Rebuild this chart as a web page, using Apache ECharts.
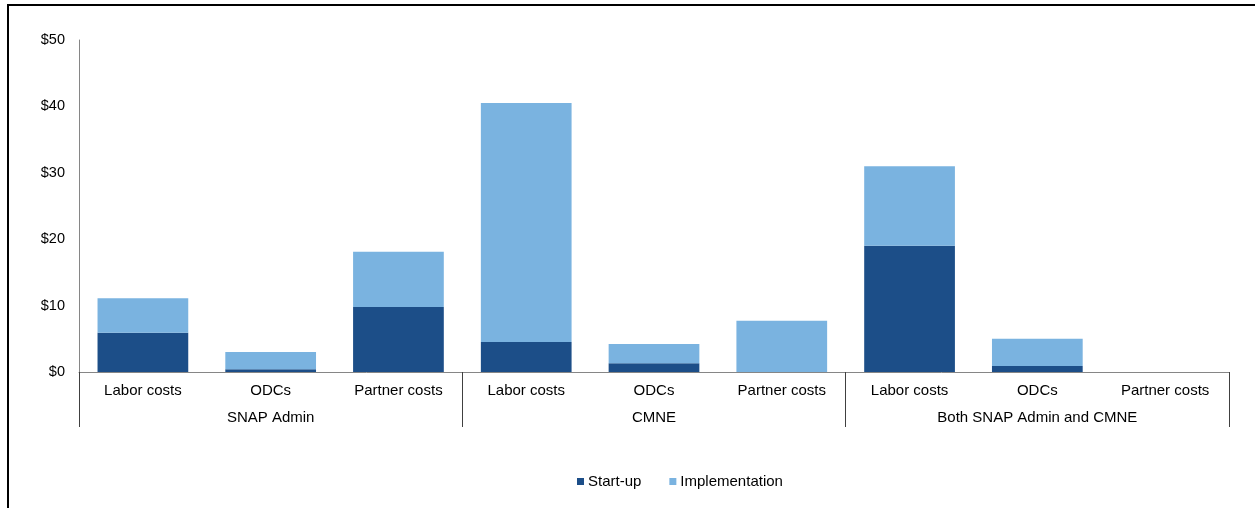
<!DOCTYPE html>
<html>
<head>
<meta charset="utf-8">
<script src="https://cdn.jsdelivr.net/npm/echarts@6/dist/echarts.min.js"></script>
<style>
  html, body { margin: 0; padding: 0; background: #fff; }
  #chart { width: 1255px; height: 508px; }
</style>
</head>
<body>
<div id="chart"></div>
<script>
// Cost categories within each program group
const categories = ['Labor costs', 'ODCs', 'Partner costs',
                    'Labor costs', 'ODCs', 'Partner costs',
                    'Labor costs', 'ODCs', 'Partner costs'];
const groups = ['SNAP Admin', 'CMNE', 'Both SNAP Admin and CMNE'];

// Costs in dollars (stacked)
const startUp        = [5.9, 0.4, 9.8, 4.5, 1.3, 0, 19.0, 0.9, 0];
const implementation = [5.2, 2.6, 8.3, 36.0, 2.9, 7.7, 12.0, 4.1, 0];

const yTicks = { min: 0, max: 50, interval: 10 };

const font = 'Liberation Sans, Arial, sans-serif';
const chart = echarts.init(document.getElementById('chart'), null, { renderer: 'canvas' });

chart.setOption({
  animation: false,
  textStyle: { fontFamily: font },
  grid: { left: 79, right: 26, top: 40, bottom: 136 },
  graphic: [
    {
      type: 'polyline',
      shape: { points: [[8, 520], [8, 5], [1270, 5]] },
      style: { stroke: '#000', lineWidth: 2, fill: null },
      silent: true
    }
  ],
  legend: {
    top: 469,
    left: 572,
    icon: 'rect',
    itemWidth: 7,
    itemHeight: 7,
    itemGap: 28,
    textStyle: { fontSize: 15, color: '#000', fontFamily: font, padding: [0, 0, 0, -1] },
    data: ['Start-up', 'Implementation']
  },
  xAxis: [
    {
      type: 'category',
      data: categories,
      axisLine: { lineStyle: { color: '#868686', width: 1 } },
      axisTick: { show: false },
      axisLabel: { color: '#000', fontSize: 15, margin: 11, fontFamily: font }
    },
    {
      type: 'category',
      data: groups,
      position: 'bottom',
      axisLine: { show: false },
      axisTick: { show: true, length: 55, lineStyle: { color: '#404040', width: 1 } },
      axisLabel: { color: '#000', fontSize: 15, margin: 38, fontFamily: font }
    }
  ],
  yAxis: {
    type: 'value',
    min: yTicks.min,
    max: yTicks.max,
    interval: yTicks.interval,
    axisLine: { show: true, lineStyle: { color: '#868686', width: 1 } },
    axisTick: { show: false },
    splitLine: { show: false },
    axisLabel: {
      color: '#000', fontSize: 14.5, margin: 14, fontFamily: font,
      formatter: v => '$' + v
    }
  },
  series: [
    {
      name: 'Start-up',
      type: 'bar',
      stack: 'cost',
      xAxisIndex: 0,
      barCategoryGap: '29%',
      data: startUp,
      itemStyle: { color: '#1C4E88' }
    },
    {
      name: 'Implementation',
      type: 'bar',
      stack: 'cost',
      xAxisIndex: 0,
      barCategoryGap: '29%',
      data: implementation,
      itemStyle: { color: '#7AB3E0' }
    }
  ]
});
</script>
</body>
</html>
